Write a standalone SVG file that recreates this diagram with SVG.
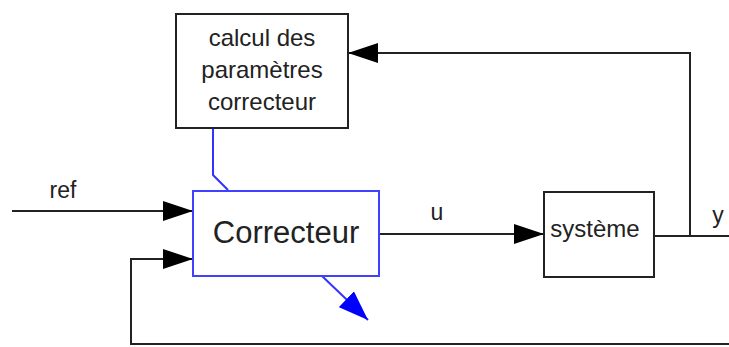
<svg xmlns="http://www.w3.org/2000/svg" width="729" height="347" viewBox="0 0 729 347">
<defs>
<style>
.box{fill:#fff;stroke:#222;stroke-width:2}
.bbox{fill:#fff;stroke:#4040ff;stroke-width:2}
.t{font-family:"Liberation Sans",Arial,sans-serif;fill:#222;text-anchor:middle}
.ln{fill:none;stroke:#222;stroke-width:2}
.bl{fill:none;stroke:#3333ff;stroke-width:2}
</style>
<marker id="ah" viewBox="0 0 30 20" refX="30" refY="10" markerWidth="30" markerHeight="20" markerUnits="userSpaceOnUse" orient="auto">
<path d="M0,0 L30,10 L0,20 Z" fill="#000"/>
</marker>
<marker id="bh" viewBox="0 0 30 22" refX="30" refY="11" markerWidth="30" markerHeight="22" markerUnits="userSpaceOnUse" orient="auto">
<path d="M0,0 L30,11 L0,22 Z" fill="#0000ff"/>
</marker>
</defs>
<g id="connectors">
<path class="ln" d="M12,211 L193,211" marker-end="url(#ah)"/>
<path class="ln" d="M729,344 L131,344 L131,259 L193,259" marker-end="url(#ah)"/>
<path class="ln" d="M379,234 L544,234" marker-end="url(#ah)"/>
<path class="ln" d="M654,236 L729,236"/>
<path class="ln" d="M690,236 L690,53 L348,53" marker-end="url(#ah)"/>
<path class="bl" d="M213,128 L213,175 L228,190"/>
<path class="bl" d="M322,276 L368,320" marker-end="url(#bh)"/>
<text class="t" x="63" y="198" font-size="23">ref</text>
<text class="t" x="437" y="220" font-size="23">u</text>
<text class="t" x="718" y="223" font-size="23">y</text>
</g>
<g id="calcul">
<rect class="box" x="176" y="14" width="172" height="114"/>
<text class="t" x="262" y="46" font-size="24">calcul des</text>
<text class="t" x="262" y="78" font-size="24">paramètres</text>
<text class="t" x="262" y="110" font-size="24">correcteur</text>
</g>
<g id="correcteur">
<rect class="bbox" x="193" y="191" width="186" height="85"/>
<text class="t" x="286" y="243" font-size="31">Correcteur</text>
</g>
<g id="systeme">
<rect class="box" x="544" y="192" width="110" height="85"/>
<text class="t" x="595" y="237" font-size="24">système</text>
</g>
</svg>
